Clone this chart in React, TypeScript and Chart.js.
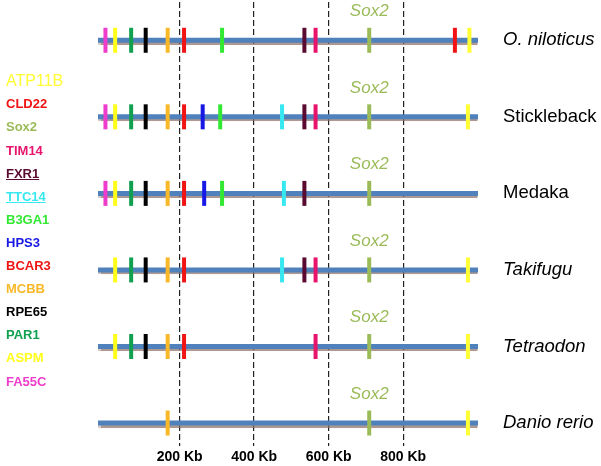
import React, { useEffect, useRef } from 'react';
import { Chart, registerables } from 'chart.js';

Chart.register(...registerables);

// Species (top to bottom)
const species = ['O. niloticus', 'Stickleback', 'Medaka', 'Takifugu', 'Tetraodon', 'Danio rerio'];
const speciesItalic = [true, false, false, true, true, true];

// Genes in legend order, with colours
const geneNames = ['ATP11B', 'CLD22', 'Sox2', 'TIM14', 'FXR1', 'TTC14', 'B3GA1', 'HPS3', 'BCAR3', 'MCBB', 'RPE65', 'PAR1', 'ASPM', 'FA55C'];
const geneColors = ['#FFFF33', '#F01414', '#9BBB59', '#E8146C', '#5A0A30', '#38E8F0', '#33E833', '#1818E6', '#F01414', '#F8B828', '#000000', '#10A050', '#FFFF1A', '#EE3CCC'];
const underlinedGenes = ['FXR1', 'TTC14'];

// Gene positions in Kb, one entry per species (null = absent)
const ATP11B = [978, 974, null, 974, 974, 974];
const CLD22 = [939, null, null, null, null, null];
const SOX2 = [709, 709, 709, 709, 709, 709];
const TIM14 = [565, 565, null, 565, 565, null];
const FXR1 = [535, 535, 535, 535, null, null];
const TTC14 = [null, 475, 480, 475, null, null];
const B3GA1 = [314, 309, 314, null, null, null];
const HPS3 = [null, 262, 266, null, null, null];
const BCAR3 = [212, 212, 212, 212, 212, null];
const MCBB = [168, 168, 168, 168, 168, 168];
const RPE65 = [109, 109, 109, 109, 109, null];
const PAR1 = [70, 70, 70, 70, 70, null];
const ASPM = [27, 27, 27, 27, 27, null];
const FA55C = [1, 1, 1, null, null, null];

const genePositions = [ATP11B, CLD22, SOX2, TIM14, FXR1, TTC14, B3GA1, HPS3, BCAR3, MCBB, RPE65, PAR1, ASPM, FA55C];

// Chromosome track extent (Kb) and axis ticks
const trackStart = -19;
const trackEnd = 1001;
const xTicks = [200, 400, 600, 800];

const FONT = '"Liberation Sans", Arial, sans-serif';
const W = 601;
const H = 466;

const rowValue = (i: number) => species.length - 1 - i;

const zeroPadding = (scale: any) => {
  scale.paddingTop = 0;
  scale.paddingBottom = 0;
  scale.paddingLeft = 0;
  scale.paddingRight = 0;
};

export default function App() {
  const canvasRef = useRef<HTMLCanvasElement | null>(null);

  useEffect(() => {
    if (!canvasRef.current) return;

    const trackDatasets = species.map((s, i) => ({
      label: s,
      data: [
        { x: trackStart, y: rowValue(i) },
        { x: trackEnd, y: rowValue(i) },
      ],
      showLine: true,
      borderColor: '#4F81BD',
      borderWidth: 5,
      pointRadius: 0,
      order: 2,
      isTrack: true,
    }));

    const geneDatasets = geneNames.map((g, gi) => ({
      label: g,
      data: genePositions[gi]
        .map((v, i) => (v === null ? null : { x: v, y: rowValue(i) }))
        .filter((p) => p !== null),
      showLine: false,
      pointStyle: 'line',
      rotation: 90,
      pointRadius: 12.5,
      pointBorderWidth: 4,
      pointBorderColor: geneColors[gi],
      pointBackgroundColor: geneColors[gi],
      order: 0,
    }));

    const shadowPlugin = {
      id: 'trackShadow',
      beforeDatasetDraw(chart: any, args: any) {
        const ds = chart.data.datasets[args.index];
        if (ds.isTrack) {
          const ctx = chart.ctx;
          ctx.save();
          ctx.shadowColor = 'rgba(140,110,100,0.7)';
          ctx.shadowOffsetY = 2;
          ctx.shadowBlur = 1;
        }
      },
      afterDatasetDraw(chart: any, args: any) {
        const ds = chart.data.datasets[args.index];
        if (ds.isTrack) chart.ctx.restore();
      },
    };

    const sox2LabelPlugin = {
      id: 'sox2Labels',
      afterDatasetsDraw(chart: any) {
        const ctx = chart.ctx;
        const xs = chart.scales.x;
        const ys = chart.scales.y;
        ctx.save();
        ctx.font = `italic 17px ${FONT}`;
        ctx.fillStyle = '#9BBB59';
        ctx.textAlign = 'center';
        ctx.textBaseline = 'middle';
        SOX2.forEach((v, i) => {
          if (v === null) return;
          ctx.fillText('Sox2', xs.getPixelForValue(v), ys.getPixelForValue(rowValue(i)) - 29);
        });
        ctx.restore();
      },
    };

    const chart = new Chart(canvasRef.current, {
      type: 'scatter',
      data: { datasets: [...geneDatasets, ...trackDatasets] as any },
      options: {
        animation: false,
        responsive: false,
        events: [],
        layout: { autoPadding: false, padding: { left: 98, top: 2, right: 0, bottom: 0 } },
        plugins: {
          legend: { display: false },
          title: { display: false },
          tooltip: { enabled: false },
        },
        scales: {
          x: {
            type: 'linear',
            position: 'bottom',
            min: trackStart,
            max: trackEnd,
            z: 1,
            afterBuildTicks: (scale: any) => {
              scale.ticks = xTicks.map((v) => ({ value: v }));
            },
            afterFit: (scale: any) => {
              scale.height = 20;
              zeroPadding(scale);
            },
            ticks: {
              autoSkip: false,
              maxRotation: 0,
              padding: 3,
              color: '#000',
              font: { family: FONT, size: 14, weight: 'bold' },
              callback: (v: any) => `${v} Kb`,
            },
            grid: {
              color: '#222',
              lineWidth: 1.2,
              drawTicks: false,
            },
            border: { display: false, dash: [6, 3] },
          },
          y: {
            type: 'linear',
            position: 'right',
            min: -0.3,
            max: 5.5,
            afterBuildTicks: (scale: any) => {
              scale.ticks = species.map((_, i) => ({ value: i }));
            },
            afterFit: (scale: any) => {
              scale.width = 123;
              zeroPadding(scale);
            },
            ticks: {
              autoSkip: false,
              padding: 25,
              color: '#000',
              font: (ctx: any) => {
                const v = ctx && ctx.tick ? ctx.tick.value : -1;
                const idx = species.length - 1 - v;
                return {
                  family: FONT,
                  size: 18.5,
                  style: v >= 0 && speciesItalic[idx] ? 'italic' : 'normal',
                };
              },
              callback: (v: any) => species[species.length - 1 - v],
            },
            grid: { display: false, drawTicks: false },
            border: { display: false },
          },
        },
      },
      plugins: [shadowPlugin, sox2LabelPlugin],
    });

    return () => chart.destroy();
  }, []);

  return (
    <div style={{ position: 'absolute', left: 0, top: 0, width: W, height: H, background: '#fff' }}>
      <canvas ref={canvasRef} width={W} height={H} style={{ display: 'block', width: W, height: H }} />
      {geneNames.map((g, i) => {
        const center = i === 0 ? 80.7 : 104.3 + (i - 1) * 23.1;
        return (
          <div
            key={g}
            style={{
              position: 'absolute',
              left: 6,
              top: center - 9,
              lineHeight: '18px',
              whiteSpace: 'nowrap',
              fontFamily: FONT,
              fontSize: i === 0 ? 16 : 13,
              fontWeight: i === 0 ? 'normal' : 'bold',
              color: geneColors[i],
              textDecoration: underlinedGenes.includes(g) ? 'underline' : 'none',
            }}
          >
            {g}
          </div>
        );
      })}
    </div>
  );
}
